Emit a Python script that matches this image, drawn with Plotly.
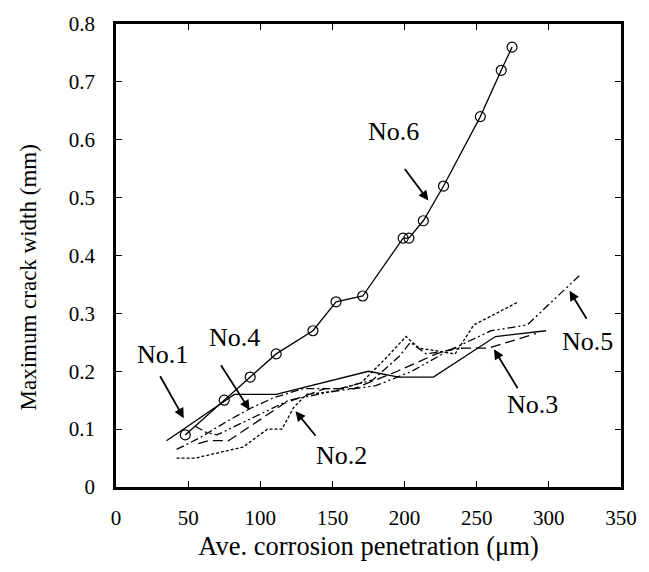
import plotly.graph_objects as go

# Crack width growth versus average corrosion penetration, specimens No.1 - No.6
no1_x = [35, 82, 111, 175, 196, 220, 263, 298]
no1_y = [0.08, 0.16, 0.16, 0.20, 0.19, 0.19, 0.26, 0.27]

no2_x = [42, 55, 88, 105, 115, 123, 132, 150, 170, 188, 201, 210, 235, 248, 279]
no2_y = [0.05, 0.05, 0.069, 0.10, 0.10, 0.137, 0.16, 0.165, 0.18, 0.225, 0.26, 0.24, 0.23, 0.28, 0.32]

no3_x = [57, 64, 78, 117, 145, 165, 195, 222, 235, 258, 291]
no3_y = [0.075, 0.08, 0.08, 0.145, 0.17, 0.17, 0.20, 0.23, 0.24, 0.24, 0.265]

no4_x = [42, 58, 78, 94, 110, 130, 155, 178, 196, 204, 215, 240]
no4_y = [0.065, 0.085, 0.115, 0.137, 0.155, 0.17, 0.17, 0.185, 0.225, 0.25, 0.23, 0.24]

no5_x = [55, 62, 70, 95, 120, 150, 180, 205, 230, 260, 285, 321]
no5_y = [0.105, 0.095, 0.09, 0.12, 0.15, 0.165, 0.175, 0.20, 0.235, 0.27, 0.28, 0.365]

no6_x = [48, 75, 93, 111, 136.5, 152.5, 171, 199, 203, 213, 227, 252.5, 267, 274.5]
no6_y = [0.09, 0.15, 0.19, 0.23, 0.27, 0.32, 0.33, 0.43, 0.43, 0.46, 0.52, 0.64, 0.72, 0.76]

x_ticks = [0, 50, 100, 150, 200, 250, 300, 350]
y_ticks = [0, 0.1, 0.2, 0.3, 0.4, 0.5, 0.6, 0.7, 0.8]
y_tick_text = ["0", "0.1", "0.2", "0.3", "0.4", "0.5", "0.6", "0.7", "0.8"]

# label text position, arrow tail, arrow head (data units)
labels = [
    ("No.1", (32.3, 0.229), (30, 0.194), (47, 0.119)),
    ("No.2", (156.2, 0.055), (139.2, 0.086), (124.4, 0.131)),
    ("No.3", (288.6, 0.143), (279, 0.168), (262, 0.238)),
    ("No.4", (81.9, 0.258), (72.1, 0.213), (92.6, 0.133)),
    ("No.5", (326.8, 0.251), (326.8, 0.288), (314.3, 0.339)),
    ("No.6", (192, 0.614), (199.4, 0.552), (216.5, 0.495)),
]

FONT = '"Liberation Serif"'
ink = "black"

fig = go.Figure()

series = [
    ("No.1", no1_x, no1_y, "solid"),
    ("No.2", no2_x, no2_y, "3px,2px"),
    ("No.3", no3_x, no3_y, "10px,5px"),
    ("No.4", no4_x, no4_y, "8px,3px,2px,3px"),
    ("No.5", no5_x, no5_y, "8px,3px,2px,3px,2px,3px"),
]
for name, xs, ys, dash in series:
    fig.add_trace(go.Scatter(
        x=xs, y=ys, mode="lines", name=name,
        line=dict(color=ink, width=1.3, dash=dash),
    ))

fig.add_trace(go.Scatter(
    x=no6_x, y=no6_y, mode="lines+markers", name="No.6",
    line=dict(color=ink, width=1.3),
    marker=dict(symbol="circle-open", size=10, color=ink, line=dict(width=1.2, color=ink)),
))

for text, (tx, ty), (ax, ay), (hx, hy) in labels:
    fig.add_annotation(
        x=tx, y=ty, text=text, showarrow=False,
        font=dict(family=FONT, size=26, color=ink),
    )
    fig.add_annotation(
        x=hx, y=hy, ax=ax, ay=ay, axref="x", ayref="y", text="",
        showarrow=True, arrowhead=2, arrowsize=1.1, arrowwidth=1.8, arrowcolor=ink,
    )

# vertical axis title, set slightly below the middle of the plotting area
fig.add_annotation(
    x=0, y=0.5, xref="paper", yref="paper", xanchor="center", yanchor="middle",
    xshift=-88, yshift=-22, text="Maximum crack width (mm)", textangle=-90, showarrow=False,
    font=dict(family=FONT, size=23, color=ink),
)

axis_common = dict(
    showline=True, linecolor=ink, linewidth=2.5, mirror="allticks",
    ticks="inside", ticklen=6, tickwidth=1.2, tickcolor=ink,
    showgrid=False, zeroline=False,
    tickfont=dict(family=FONT, size=21, color=ink),
)

fig.update_layout(
    width=649, height=572,
    margin=dict(l=116, r=20, t=18, b=85),
    plot_bgcolor="white", paper_bgcolor="white",
    showlegend=False,
    font=dict(family=FONT, color=ink),
    xaxis=dict(
        range=[0, 350], tickvals=x_ticks,
        title=dict(text="Ave. corrosion penetration (μm)", font=dict(family=FONT, size=26.5, color=ink), standoff=8),
        ticklabelstandoff=10,
        **axis_common,
    ),
    yaxis=dict(
        range=[0, 0.8], tickvals=y_ticks, ticktext=y_tick_text,
        ticklabelstandoff=14,
        **axis_common,
    ),
)

fig.write_html("out.html")
